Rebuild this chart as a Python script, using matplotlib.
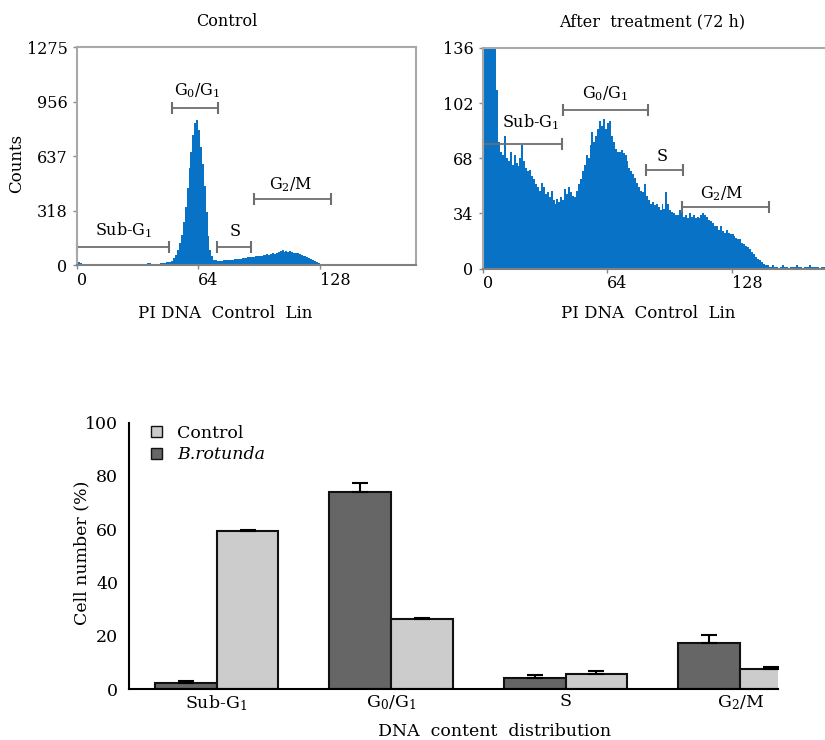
import numpy as np
import matplotlib
matplotlib.use('Agg')
import matplotlib.pyplot as plt
from matplotlib.patches import Patch

plt.rcParams['font.family'] = 'DejaVu Serif'
plt.rcParams['mathtext.fontset'] = 'dejavuserif'
plt.rcParams['font.size'] = 11.5

# flow cytometry histograms (counts per channel)
control_counts = [
    22, 18, 10, 4, 3, 2, 2, 2, 2, 2,
    2, 2, 2, 2, 2, 2, 2, 2, 2, 2,
    2, 2, 2, 2, 2, 2, 2, 2, 2, 2,
    2, 2, 3, 3, 3, 4, 6, 10, 12, 8,
    5, 5, 6, 8, 10, 12, 14, 15, 18, 20,
    25, 40, 60, 90, 130, 175, 250, 340, 450, 570,
    660, 760, 830, 850, 790, 690, 590, 460, 310, 170,
    90, 50, 30, 28, 26, 25, 26, 27, 28, 28,
    30, 30, 32, 33, 35, 36, 38, 40, 40, 42,
    44, 45, 47, 46, 50, 52, 55, 53, 58, 60,
    62, 60, 65, 68, 66, 72, 75, 80, 88, 78,
    82, 76, 80, 74, 72, 70, 68, 62, 58, 55,
    50, 45, 40, 35, 28, 22, 15, 10, 6, 3,
    1, 0,
]
treated_counts = [
    300, 260, 220, 190, 170, 155, 145, 110, 78, 72,
    70, 82, 68, 66, 72, 64, 70, 65, 63, 68,
    76, 66, 62, 60, 61, 57, 55, 52, 50, 48,
    53, 50, 46, 47, 44, 48, 42, 40, 43, 41,
    44, 42, 49, 46, 50, 47, 45, 44, 48, 52,
    55, 60, 64, 70, 68, 76, 84, 78, 82, 86,
    91, 88, 92, 86, 90, 91, 82, 78, 74, 72,
    72, 73, 71, 70, 66, 62, 60, 58, 56, 53,
    50, 48, 47, 52, 45, 42, 40, 41, 39, 40,
    38, 36, 40, 37, 47, 40, 36, 35, 34, 33,
    33, 36, 34, 32, 33, 31, 34, 32, 33, 31,
    32, 31, 33, 34, 33, 32, 30, 29, 28, 26,
    26, 24, 26, 23, 22, 24, 22, 21, 21, 20,
    19, 18, 18, 16, 15, 14, 13, 12, 10, 9,
    7, 6, 5, 4, 3, 2, 2, 1, 1, 2,
    1, 1, 0, 1, 2, 1, 1, 0, 1, 1,
    1, 2, 1, 1, 0, 1, 1, 1, 2, 1,
    1, 1, 1, 0, 1, 1, 1,
]

# gate markers: (label, start channel, end channel, level, label x, label y)
control_gates = [
    ('Sub-G$_1$', 0, 48.7, 105, 25, 205),
    ('G$_0$/G$_1$', 50.4, 74.6, 918, 63.3, 1021),
    ('S', 73.8, 91.7, 105, 83.4, 199),
    ('G$_2$/M', 93.4, 133.8, 385, 112.9, 473),
]
treated_gates = [
    ('Sub-G$_1$', 0, 41, 77, 24.6, 90),
    ('G$_0$/G$_1$', 41.4, 85, 98, 63, 108),
    ('S', 84.2, 103, 61, 92.5, 69),
    ('G$_2$/M', 102.7, 147, 38, 123, 46),
]

# bar chart
phases = ['Sub-G$_1$', 'G$_0$/G$_1$', 'S', 'G$_2$/M']
dark_vals = [2.1, 74.0, 4.2, 17.1]
dark_err = [1.0, 3.4, 1.0, 3.2]
light_vals = [59.4, 26.3, 5.7, 7.4]
light_err = [0.3, 0.2, 1.2, 0.8]

blue = '#0873c6'
gate_col = '#6e6e6e'

fig = plt.figure(figsize=(8.25, 7.4), dpi=100)


def draw_hist(ax, counts, ymax, yticks, gates, label_box):
    ch = np.arange(len(counts))
    ax.bar(ch, counts, width=1.0, align='edge', color=blue, linewidth=0)
    ax.set_ylim(0, ymax)
    ax.set_yticks(yticks)
    ax.set_xticks([0, 64, 128])
    for lab in ax.get_xticklabels():
        lab.set_horizontalalignment('left')
    ax.tick_params(axis='both', colors='#888888', labelcolor='black',
                   length=3, width=1, labelsize=11.5)
    ax.tick_params(axis='x', pad=2)
    for s in ['top', 'right', 'left']:
        ax.spines[s].set_color('#a8a8a8')
        ax.spines[s].set_linewidth(1.5)
    ax.spines['bottom'].set_color('#808080')
    ax.spines['bottom'].set_linewidth(1.5)
    for lab, x0, x1, y, lx, ly in gates:
        ax.plot([x0, x1], [y, y], color=gate_col, lw=1.3, marker='|',
                markersize=8, markeredgewidth=1.5, clip_on=False)
        kw = {}
        if label_box:
            kw['bbox'] = dict(facecolor='white', edgecolor='none', pad=0.5)
        ax.text(lx, ly, lab, ha='center', va='center', fontsize=11.5, **kw)


ax1 = fig.add_axes([76.5 / 825, 1 - 265 / 740, 339.5 / 825, 217.7 / 740])
draw_hist(ax1, control_counts, 1275, [0, 318, 637, 956, 1275], control_gates, False)
ax1.set_xlim(0, 178.7)

ax2 = fig.add_axes([482.5 / 825, 1 - 268.5 / 740, 342.5 / 825, 220.5 / 740])
draw_hist(ax2, treated_counts, 136, [0, 34, 68, 102, 136], treated_gates, True)
ax2.set_xlim(0, 176)
ax2.spines['right'].set_visible(False)

fig.text(227 / 825, 1 - 21 / 740, 'Control', ha='center', va='center', fontsize=11.5)
fig.text(652 / 825, 1 - 22 / 740, 'After  treatment (72 h)', ha='center', va='center', fontsize=11.5)
fig.text(225 / 825, 1 - 313 / 740, 'PI DNA  Control  Lin', ha='center', va='center', fontsize=12)
fig.text(648 / 825, 1 - 313 / 740, 'PI DNA  Control  Lin', ha='center', va='center', fontsize=12)
fig.text(17 / 825, 1 - 163 / 740, 'Counts', ha='center', va='center', rotation=90, fontsize=12)

# bottom bar chart
ax3 = fig.add_axes([129.3 / 825, 1 - 689 / 740, 648.4 / 825, 266.5 / 740])
x = np.arange(len(phases))
w = 0.355
ax3.bar(x - w / 2, dark_vals, width=w, color='#666666', edgecolor='#111111', linewidth=1.5,
        yerr=[[0] * 4, dark_err], error_kw=dict(ecolor='black', elinewidth=1.5, capsize=6, capthick=1.5))
ax3.bar(x + w / 2, light_vals, width=w, color='#cccccc', edgecolor='#111111', linewidth=1.5,
        yerr=[[0] * 4, light_err], error_kw=dict(ecolor='black', elinewidth=1.5, capsize=6, capthick=1.5))
ax3.set_xlim(-0.5, 3.216)
ax3.set_ylim(0, 100)
ax3.set_yticks([0, 20, 40, 60, 80, 100])
ax3.set_xticks(x)
ax3.set_xticklabels(phases)
ax3.tick_params(length=0, labelsize=12.5, pad=8)
ax3.tick_params(axis='x', pad=3)
ax3.spines['top'].set_visible(False)
ax3.spines['right'].set_visible(False)
ax3.spines['left'].set_linewidth(1.5)
ax3.spines['bottom'].set_linewidth(1.5)

handles = [Patch(facecolor='#cccccc', edgecolor='#111111', label='Control'),
           Patch(facecolor='#666666', edgecolor='#111111', label='B.rotunda')]
leg = ax3.legend(handles=handles, loc='upper left', bbox_to_anchor=(0.01, 1.05), frameon=False,
                 handlelength=0.6, handleheight=0.6, handletextpad=0.9, labelspacing=0.25,
                 fontsize=12.5)
leg.get_texts()[1].set_fontstyle('italic')

fig.text(82 / 825, 1 - 553 / 740, 'Cell number (%)', ha='center', va='center', rotation=90, fontsize=12.5)
fig.text(495 / 825, 1 - 731 / 740, 'DNA  content  distribution', ha='center', va='center', fontsize=12.5)

fig.savefig('out.png', dpi=100)
